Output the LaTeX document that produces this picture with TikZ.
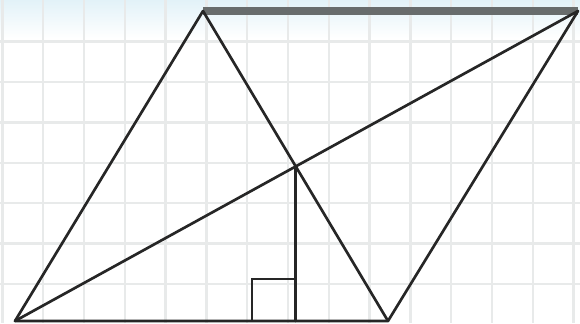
\documentclass[tikz,border=0pt]{standalone}
\usetikzlibrary{calc}
\definecolor{gridgray}{RGB}{232,234,234}
\definecolor{skytint}{RGB}{226,242,248}
\definecolor{topgray}{RGB}{104,108,108}
\begin{document}
\begin{tikzpicture}[
        x=0.025cm, y=0.025cm,
        gridline/.style={draw=gridgray, line width=1.6pt},
        edge/.style={draw=black!85, line width=1.9pt, line cap=round, line join=round},
        topedge/.style={draw=topgray, line width=5pt},
        anglemark/.style={draw=black!85, line width=1.6pt}
    ]

    % ==========================================
    % 1. HINTERGRUND (RASTER)
    % ==========================================
    \useasboundingbox (0,0) rectangle (580,323);
    \fill[white] (0,0) rectangle (580,323);
    \shade[top color=skytint, bottom color=white] (0,285) rectangle (580,323);

    \foreach \gx in {0,...,14}
        \draw[gridline] ({2.4+40.8*\gx},0) -- ({2.4+40.8*\gx},323);
    \foreach \gy in {0,...,6}
        \draw[gridline] (0,{39+40.4*\gy}) -- (580,{39+40.4*\gy});

    % ==========================================
    % 2. ECKPUNKTE
    % ==========================================
    \coordinate (A) at (15,2);
    \coordinate (B) at (388,2);
    \coordinate (C) at (578,312);
    \coordinate (D) at (203,312);

    % Schnittpunkt der Diagonalen und Lotfusspunkt
    \coordinate (O) at (intersection of A--C and D--B);
    \coordinate (H) at (O |- A);

    % ==========================================
    % 3. LINIEN
    % ==========================================
    \draw[topedge] (D) -- (C);
    \draw[edge] (D) -- (A) -- (B) -- (C);
    \draw[edge] (A) -- (C);
    \draw[edge] (D) -- (B);
    \draw[edge] (O) -- (H);

    % Rechter Winkel
    \draw[anglemark] ($(H)+(0,42)$) -| ($(H)+(-44,0)$);

\end{tikzpicture}
\end{document}
